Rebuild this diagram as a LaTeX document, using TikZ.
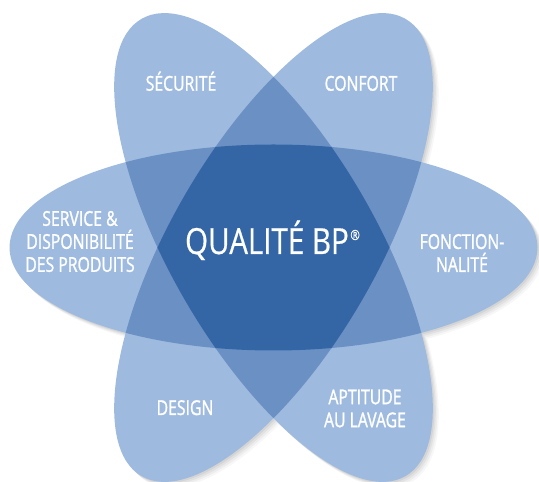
\documentclass[tikz,border=0pt]{standalone}
\usepackage{fontspec}
\setmainfont{Open Sans}[FakeStretch=0.77, FakeBold=1.2]
\newfontfamily\titlefont{Open Sans}[FakeStretch=0.82, FakeBold=0.5]
\definecolor{lite}{HTML}{9EBBDF}
\definecolor{midb}{HTML}{6B90C4}
\definecolor{dark}{HTML}{3466A6}
\begin{document}
\begin{tikzpicture}[x=1pt,y=1pt,
  lbl/.style={text=white, align=center, inner sep=0pt, font=\fontsize{20.5}{23}\selectfont},
  big/.style={text=white, inner sep=0pt, font=\titlefont\fontsize{36}{40}\selectfont}]
\useasboundingbox (0,0) rectangle (539,482);
\def\elp{(0,0) ellipse [x radius=264pt, y radius=103pt]}
% soft shadow
\foreach \s/\o in {6/0.03,4.5/0.04,3/0.05,1.5/0.06}{
  \begin{scope}[shift={(273.5+\s,234.5-\s)}, transparency group, opacity=\o]
    \fill[black] \elp;
    \fill[black,rotate=60] \elp;
    \fill[black,rotate=-60] \elp;
  \end{scope}}
% petals
\begin{scope}[shift={(273.5,234.5)}]
  \fill[lite] \elp;
  \fill[lite,rotate=60] \elp;
  \fill[lite,rotate=-60] \elp;
  \begin{scope}
    \clip \elp;
    \fill[midb,rotate=60] \elp;
    \fill[midb,rotate=-60] \elp;
  \end{scope}
  \begin{scope}
    \clip[rotate=60] \elp;
    \fill[midb,rotate=-60] \elp;
  \end{scope}
  \begin{scope}
    \clip \elp;
    \clip[rotate=60] \elp;
    \fill[dark,rotate=-60] \elp;
  \end{scope}
\end{scope}
% labels
\node[lbl, anchor=base] (sec) at (181,391.3) {SÉCURITÉ};
\node[lbl, anchor=base] (conf) at (361,391.3) {CONFORT};
\node[lbl] (serv) at (80,240.5) {SERVICE \&\\DISPONIBILITÉ\\DES PRODUITS};
\node[lbl] (fonc) at (462,229) {FONCTION-\\NALITÉ};
\node[lbl, anchor=base] (des) at (185,67) {DESIGN};
\node[lbl] (apt) at (365,73.5) {APTITUDE\\AU LAVAGE};
\node[big, anchor=base] (q) at (272.5,228) {QUALITÉ BP\kern1.5pt\raisebox{14pt}{\fontsize{14}{14}\selectfont ®}};
\end{tikzpicture}
\end{document}
